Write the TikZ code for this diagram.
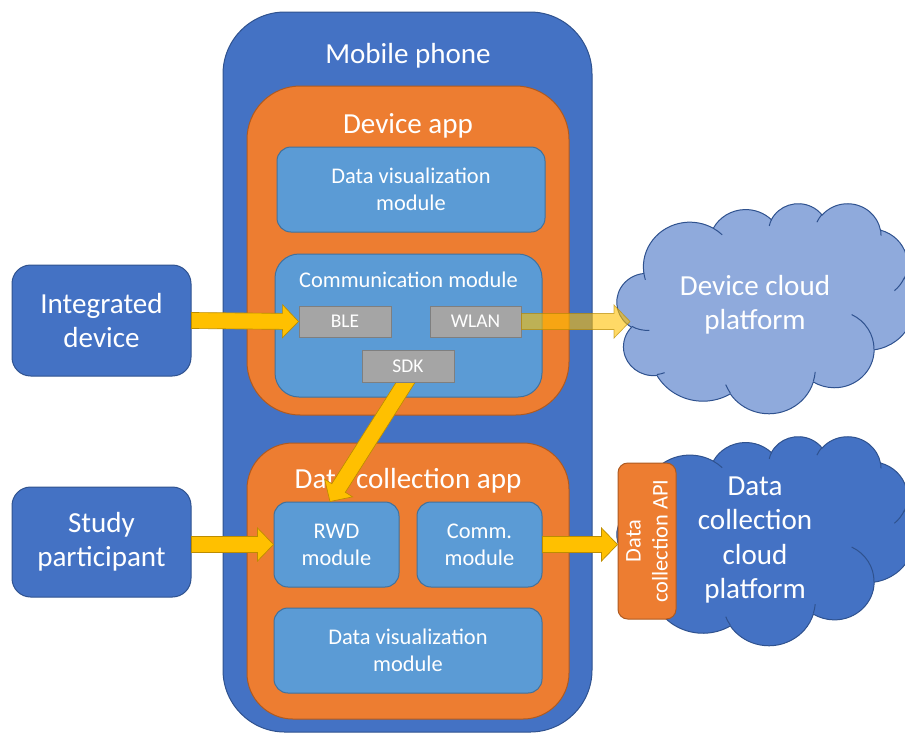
\documentclass[tikz,border=0pt]{standalone}
\usepackage{fontspec}
\setmainfont{Carlito}
\usetikzlibrary{calc,fit}
\definecolor{phoneblue}{HTML}{4472C4}
\definecolor{phoneedge}{HTML}{2F528F}
\definecolor{apporange}{HTML}{ED7D31}
\definecolor{appedge}{HTML}{AE5A21}
\definecolor{modblue}{HTML}{5B9BD5}
\definecolor{modedge}{HTML}{41719C}
\definecolor{grayfill}{HTML}{A5A5A5}
\definecolor{grayedge}{HTML}{7F7F7F}
\definecolor{arrowfill}{HTML}{FFC000}
\definecolor{arrowedge}{HTML}{BC8C00}
\definecolor{cloudlight}{HTML}{8FAADC}
\newcommand\fntbig{\fontsize{21.8}{25.6}\selectfont}
\newcommand\fntmod{\fontsize{16.8}{20.2}\selectfont}
\newcommand\fntsmall{\fontsize{14.6}{16.5}\selectfont}
% block arrow from #2 to #3
\newcommand\blockarrow[3][]{%
  \coordinate (ba-h) at ($(#3)!12pt!(#2)$);
  \draw[arrowshape,#1] ($(#2)!6pt!90:(#3)$) -- ($(ba-h)!6pt!90:(#3)$) -- ($(ba-h)!12.4pt!90:(#3)$) -- (#3) -- ($(ba-h)!12.4pt!-90:(#3)$) -- ($(ba-h)!6pt!-90:(#3)$) -- ($(#2)!6pt!-90:(#3)$) -- cycle;
}
% DrawingML-style arc: wR hR stAng swAng (visual angles)
\newcommand\ooarc[4]{%
  \pgfextra{%
    \pgfmathparse{(#3)+Mod(atan2((#1)*sin(#3),(#2)*cos(#3))-(#3)+180,360)-180}\xdef\oocs{\pgfmathresult}%
    \pgfmathparse{(#3)+(#4)+Mod(atan2((#1)*sin((#3)+(#4)),(#2)*cos((#3)+(#4)))-(#3)-(#4)+180,360)-180}\xdef\ooce{\pgfmathresult}%
  } arc[start angle=\oocs, end angle=\ooce, x radius=#1, y radius=#2]}
\newcommand\cloudoutline{%
  (39.00,143.70)
  \ooarc{67.53}{91.90}{-190.4875}{123.7805}
  \ooarc{53.33}{72.67}{-144.1024}{89.9452}
  \ooarc{43.65}{59.45}{-145.8079}{99.7230}
  \ooarc{48.57}{65.95}{-130.9861}{117.2417}
  \ooarc{53.33}{72.73}{-78.7089}{109.0269}
  \ooarc{67.75}{92.20}{-46.2673}{130.2690}
  \ooarc{57.85}{78.67}{0.6250}{114.0333}
  \ooarc{67.52}{92.15}{22.4516}{115.1726}
  \ooarc{77.20}{105.43}{66.2426}{75.7110}
  \ooarc{43.60}{59.18}{-274.9421}{146.7356}
  \ooarc{43.45}{59.45}{-246.8285}{152.5189}
  -- cycle}
\newcommand\cloudinner{%
  (46.93,261.77) \ooarc{43.45}{59.45}{86.742}{26.4295}
  (69.28,348.99) \ooarc{43.60}{59.18}{73.6105}{11.4475}
  (164.78,390.90) \ooarc{67.52}{92.15}{137.6242}{14.0811}
  (288.27,347.51) \ooarc{67.52}{92.15}{6.4533}{15.9984}
  (341.29,229.54) \ooarc{57.85}{78.67}{-70.2924}{70.9174}
  (417.98,153.54) \ooarc{53.33}{72.73}{30.3180}{27.7515}
  (383.24,54.26) \ooarc{48.57}{65.95}{-13.7443}{14.8589}
  (290.78,39.52) \ooarc{48.57}{65.95}{-149.1815}{18.1954}
  (221.41,47.20) \ooarc{43.65}{59.45}{-163.4943}{17.6864}
  (140.00,51.92) \ooarc{67.53}{91.90}{-66.7070}{12.3194}
  (41.27,157.89) \ooarc{67.53}{91.90}{157.6544}{11.8582}}
\begin{document}
\begin{tikzpicture}[x=0.75pt,y=-0.75pt,
  box/.style={draw, line width=0.75pt, inner sep=0pt, text=white},
  phonebox/.style={box, fill=phoneblue, draw=phoneedge, rounded corners=46.5pt},
  appbox/.style={box, fill=apporange, draw=appedge},
  modbox/.style={box, fill=modblue, draw=modedge, font=\fntmod, align=center},
  graybox/.style={box, fill=grayfill, draw=grayedge, font=\fntsmall},
  actorbox/.style={box, fill=phoneblue, draw=phoneedge, rounded corners=14pt, font=\fntbig, align=center},
  apibox/.style={box, fill=apporange, draw=appedge, rounded corners=7.3pt},
  title/.style={text=white, font=\fntbig, anchor=base, inner sep=0pt},
  cloudtext/.style={text=white, font=\fntbig, align=center, inner sep=0pt},
  cloudshape/.style={draw=phoneedge, line width=0.75pt},
  cloudline/.style={draw=phoneedge, line width=0.75pt},
  arrowshape/.style={fill=arrowfill, draw=arrowedge, line width=0.5pt, line join=miter},
]
\useasboundingbox (0,0) rectangle (905,733);
\clip (0,0) rectangle (905,733);

% mobile phone and apps
\node[phonebox, fit={(223,12)(592,732)}] (phone) {};
\node[title] (tphone) at (408,63) {Mobile phone};
\node[appbox, rounded corners=40pt, fit={(247,86)(569,415)}] (devapp) {};
\node[title] (tdevapp) at (408,133) {Device app};
\node[appbox, rounded corners=34.5pt, fit={(247,443)(569,719)}] (dcapp) {};
\node[title] (tdcapp) at (408,488) {Data collection app};

% device app modules
\node[modbox, rounded corners=10.5pt, minimum width=201pt, minimum height=63.75pt] (dviz1) at (411,189.5) {Data visualization\\module};
\node[modbox, rounded corners=18pt, fit={(275,254)(542,397)}] (comm) {};
\node[text=white, font=\fntmod, anchor=base, inner sep=0pt] (tcomm) at (408.5,287) {Communication module};

% data collection app modules
\node[modbox, rounded corners=10.5pt, minimum width=93.75pt, minimum height=63.75pt] (rwd) at (336.5,544.5) {RWD\\module};
\node[modbox, rounded corners=10.5pt, minimum width=93.75pt, minimum height=63.75pt] (commmod) at (479.5,544.5) {Comm.\\module};
\node[modbox, rounded corners=10.5pt, minimum width=201pt, minimum height=63.75pt] (dviz2) at (408,650.5) {Data visualization\\module};

% SDK arrow (under the SDK box, over the app title)
\coordinate (sdkstart) at (416,366);
\coordinate (rwdin) at ($(rwd.north)+(-6.5,0)$);
\blockarrow{sdkstart}{rwdin}

% gray blocks
\node[graybox, minimum width=69pt, minimum height=23.25pt] (ble) at (345,321.5) {BLE};
\node[graybox, minimum width=68.25pt, minimum height=23.25pt] (wlan) at (475.5,321.5) {WLAN};
\node[graybox, minimum width=69pt, minimum height=24pt] (sdk) at (408,366) {SDK};

% actors
\node[actorbox, minimum width=134.25pt, minimum height=83.25pt] (intdev) at (101.5,320.5) {Integrated\\device};
\node[actorbox, minimum width=134.25pt, minimum height=82.5pt] (study) at (101.5,542) {Study\\participant};

% clouds
\begin{scope}[shift={(617,203)}, xscale=0.6875, yscale=0.4861]
  \fill[cloudlight] \cloudoutline;
  \draw[cloudshape] \cloudoutline;
  \draw[cloudline] \cloudinner;
\end{scope}
\node[cloudtext] (tdevcloud) at (755,305) {Device cloud\\platform};

\begin{scope}[shift={(617,436)}, xscale=0.6875, yscale=0.4838]
  \fill[phoneblue] \cloudoutline;
  \draw[cloudshape] \cloudoutline;
  \draw[cloudline] \cloudinner;
\end{scope}
\node[cloudtext] (tdccloud) at (755,540) {Data\\collection\\cloud\\platform};

\node[apibox, fit={(618,463)(676,619)}] (api) {};
\node[text=white, font=\fntmod, align=center, rotate=90, inner sep=0pt] (tapi) at (api.center) {Data\\collection API};

% arrows
\blockarrow{intdev.east}{ble.west}
\coordinate (wlantip) at (630,321.5);
\blockarrow[fill opacity=0.6, draw opacity=0.7]{wlan.east}{wlantip}
\blockarrow{study.east |- rwd.west}{rwd.west}
\blockarrow{commmod.east}{api.west |- commmod.east}
\end{tikzpicture}
\end{document}
